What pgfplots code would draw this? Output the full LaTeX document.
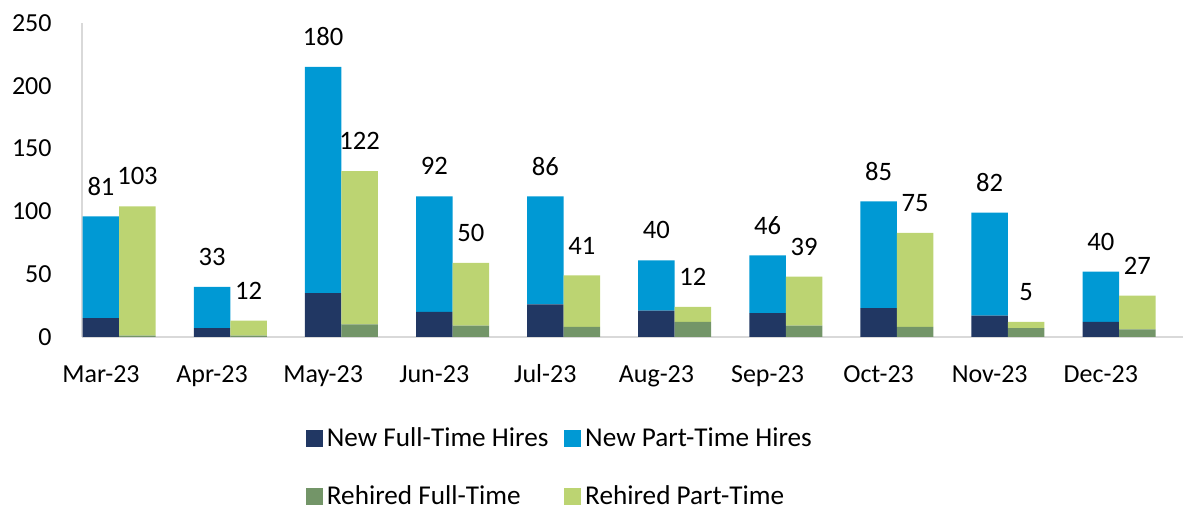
\documentclass[border=0pt]{standalone}
\usepackage{fontspec}
\setmainfont{Carlito}
\usepackage{pgfplots}
\pgfplotsset{compat=1.18}
\usepackage{pgfplotstable}
\definecolor{cnft}{HTML}{213763}
\definecolor{cnpt}{HTML}{0099D4}
\definecolor{crft}{HTML}{739568}
\definecolor{crpt}{HTML}{BCD472}
\definecolor{axisgray}{HTML}{D9D9D9}
\newcommand{\tickfont}{\fontsize{13pt}{15pt}\selectfont}
\newcommand{\lblfont}{\fontsize{13.3pt}{15pt}\selectfont}
\newcommand{\legfont}{\fontsize{13.6pt}{16pt}\selectfont}

\pgfplotstableread{
idx nft npt rft rpt
0 15 81 1 103
1 7 33 1 12
2 35 180 10 122
3 20 92 9 50
4 26 86 8 41
5 21 40 12 12
6 19 46 9 39
7 23 85 8 75
8 17 82 7 5
9 12 40 6 27
}\datatable

\pgfplotsset{
  /pgf/number format/assume math mode=true,
  base0/.style={
    scale only axis, width=550.5pt, height=157pt,
    xmin=-0.171, xmax=9.74, ymin=0, ymax=250,
    major tick length=0pt, clip=false,
  },
  base/.style={base0, ybar stacked, bar width=18.25pt},
  lbl/.style={only marks, mark=none, nodes near coords, point meta=explicit,
    every node near coord/.append style={anchor=center, yshift=15pt, font=\lblfont, text=black}},
}

\begin{document}
\begin{tikzpicture}
\begin{axis}[base, name=main,
  axis x line*=bottom, axis y line*=left,
  axis line style={draw=axisgray, line width=0.75pt},
  ytick={0,50,...,250},
  xtick={0,...,9},
  xticklabels={Mar-23,Apr-23,May-23,Jun-23,Jul-23,Aug-23,Sep-23,Oct-23,Nov-23,Dec-23},
  yticklabel style={anchor=east, inner sep=0pt, xshift=-15pt, font=\tickfont},
  xticklabel style={anchor=base, inner sep=0pt, yshift=-23pt, font=\tickfont},
]
\addplot[fill=cnft, draw=none, bar shift=0pt] table[x=idx, y=nft]{\datatable};
\addplot[fill=cnpt, draw=none, bar shift=0pt] table[x=idx, y=npt]{\datatable};
\end{axis}
\begin{axis}[base, hide axis]
\addplot[fill=crft, draw=none, bar shift=18.25pt] table[x=idx, y=rft]{\datatable};
\addplot[fill=crpt, draw=none, bar shift=18.25pt] table[x=idx, y=rpt]{\datatable};
\end{axis}
\begin{axis}[base0, hide axis,
  legend columns=2, legend cell align=left,
  legend style={at={(0.435,-0.4156)}, anchor=center, draw=none, fill=none,
    font=\legfont, row sep=14pt,
    /tikz/every even column/.append style={column sep=6pt}},
]
\addplot[lbl, forget plot] table[x=idx, y expr=\thisrow{nft}+\thisrow{npt}, meta=npt]{\datatable};
\addplot[lbl, forget plot] table[x expr=\thisrow{idx}+0.3285, y expr=\thisrow{rft}+\thisrow{rpt}, meta=rpt]{\datatable};
\addlegendimage{legend image code/.code={\fill[cnft] (0pt,-4pt) rectangle (8pt,4pt);}}
\addlegendentry{New Full-Time Hires}
\addlegendimage{legend image code/.code={\fill[cnpt] (0pt,-4pt) rectangle (8pt,4pt);}}
\addlegendentry{New Part-Time Hires}
\addlegendimage{legend image code/.code={\fill[crft] (0pt,-4pt) rectangle (8pt,4pt);}}
\addlegendentry{Rehired Full-Time}
\addlegendimage{legend image code/.code={\fill[crpt] (0pt,-4pt) rectangle (8pt,4pt);}}
\addlegendentry{Rehired Part-Time}
\end{axis}
\path ([xshift=-41pt, yshift=-85.5pt]main.south west) rectangle ([xshift=1pt, yshift=11.5pt]main.north east);
\end{tikzpicture}
\end{document}
